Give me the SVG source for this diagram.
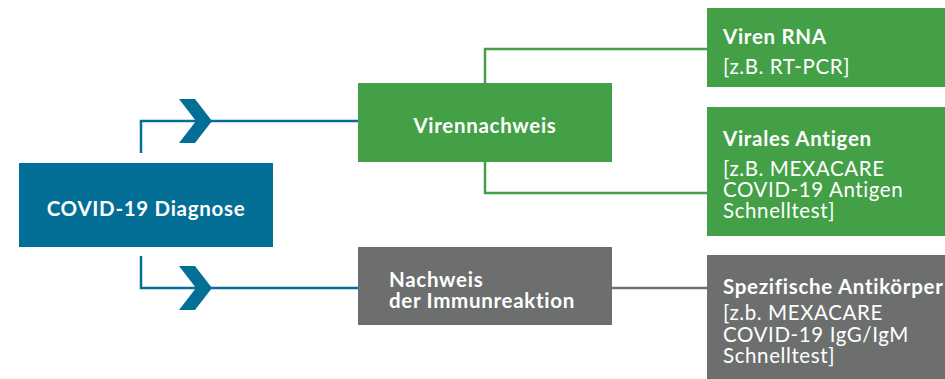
<svg xmlns="http://www.w3.org/2000/svg" width="945" height="379" viewBox="0 0 945 379">
<defs>
<style>
.t{font-family:Lato,"Open Sans","Liberation Sans",sans-serif;fill:#fff;font-size:20.5px;letter-spacing:0.6px}
.b{font-weight:700;letter-spacing:0.7px}
.c{text-anchor:middle}
.blue{fill:#036E96}
.green{fill:#43A047}
.gray{fill:#6D6F6F}
.lb{fill:none;stroke:#036E96;stroke-width:2.5}
.lg{fill:none;stroke:#43A047;stroke-width:2.5}
.lr{fill:none;stroke:#6D6F6F;stroke-width:2.5}
</style>
</defs>
<rect width="945" height="379" fill="#fff"/>
<g id="connectors">
<path class="lb" d="M141 153 V121 H358"/>
<path class="lb" d="M141 256 V288 H358"/>
<polygon class="blue" points="179,99 195,99 212,121 195,143 179,143 196,121"/>
<polygon class="blue" points="179,266 195,266 212,288 195,310 179,310 196,288"/>
<path class="lg" d="M485 83 V49 H708"/>
<path class="lg" d="M485 162 V193 H708"/>
<path class="lr" d="M612 288 H708"/>
</g>
<g id="covid-diagnose">
<rect class="blue" x="19" y="163" width="254" height="84"/>
<text class="t b c" x="146" y="216">COVID-19 Diagnose</text>
</g>
<g id="virennachweis">
<rect class="green" x="358" y="83" width="254" height="79"/>
<text class="t b c" x="485" y="133">Virennachweis</text>
</g>
<g id="immunreaktion">
<rect class="gray" x="358" y="247" width="254" height="78"/>
<text class="t b" x="389" y="287">Nachweis</text>
<text class="t b" x="389" y="308">der Immunreaktion</text>
</g>
<g id="viren-rna">
<rect class="green" x="707" y="8" width="238" height="79"/>
<text class="t b" x="723" y="44">Viren RNA</text>
<text class="t" x="723" y="74">[z.B. RT-PCR]</text>
</g>
<g id="virales-antigen">
<rect class="green" x="707" y="107" width="238" height="129"/>
<text class="t b" x="723" y="146">Virales Antigen</text>
<text class="t" x="723" y="176">[z.B. MEXACARE</text>
<text class="t" x="723" y="197">COVID-19 Antigen</text>
<text class="t" x="723" y="218">Schnelltest]</text>
</g>
<g id="antikoerper">
<rect class="gray" x="707" y="255" width="238" height="124"/>
<text class="t b" x="723" y="294">Spezifische Antikörper</text>
<text class="t" x="723" y="320">[z.b. MEXACARE</text>
<text class="t" x="723" y="342">COVID-19 IgG/IgM</text>
<text class="t" x="723" y="363">Schnelltest]</text>
</g>
</svg>
